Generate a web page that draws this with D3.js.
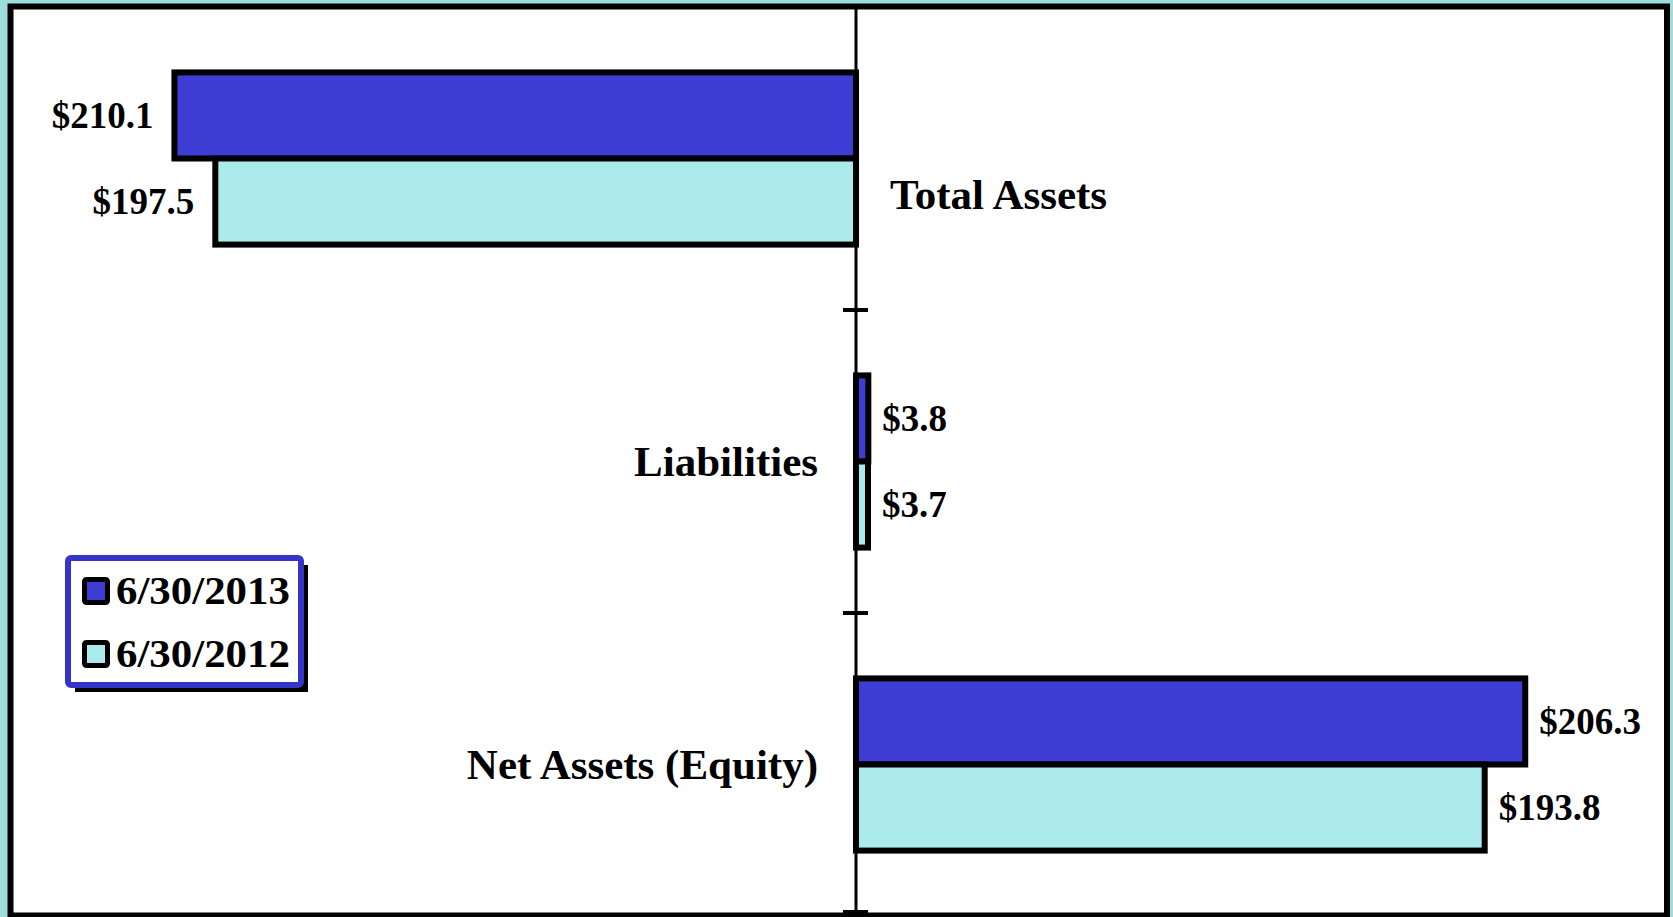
<!DOCTYPE html>
<html lang="en-us">
  <head>
    <meta charset="utf-8">
    <title>Total Assets, Liabilities and Net Assets</title>
    <script src="https://d3js.org/d3.v7.min.js"></script>
    <style>
      html, body { margin: 0; padding: 0; background: #9fdcdc; }
      .chart text {
        font-family: "Liberation Serif", "Times New Roman", serif;
        font-weight: bold;
        fill: #000;
      }
    </style>
  </head>
  <body>
    <svg class="chart"></svg>

<script>
var width = 1673,
    height = 917;

// data (in $ millions)
var categories = ["Total Assets", "Liabilities", "Net Assets (Equity)"];
var series = ["6/30/2013", "6/30/2012"];
var values2013 = [210.1, 3.8, 206.3];
var values2012 = [197.5, 3.7, 193.8];
// total assets go to the left of the axis, the rest to the right
var side = [-1, 1, 1];

var colors = ["#3d3dd6", "#aaeaea"];

var svg = d3.select(".chart")
    .attr("width", width)
    .attr("height", height);

// frame
svg.append("rect")
    .attr("x", 10.5).attr("y", 6.5)
    .attr("width", 1656.5).attr("height", 909)
    .attr("fill", "#fff")
    .attr("stroke", "#000")
    .attr("stroke-width", 6);

var x = d3.scaleLinear()
    .domain([-250, 250])
    .range([45, 1667]);

var y0 = d3.scaleBand()
    .domain(categories)
    .range([7, 916]);

var y1 = d3.scaleBand()
    .domain(series)
    .range([0, y0.bandwidth()])
    .paddingOuter(0.76);

var rows = categories.map(function(c, i) {
  return {
    cat: c,
    side: side[i],
    vals: [
      {s: series[0], v: values2013[i], color: colors[0]},
      {s: series[1], v: values2012[i], color: colors[1]}
    ]
  };
});

var groups = svg.selectAll("g.cat")
    .data(rows)
  .enter().append("g")
    .attr("class", "cat")
    .attr("transform", function(d) { return "translate(0," + y0(d.cat) + ")"; });

groups.selectAll("rect")
    .data(function(d) { return d.vals.map(function(e) { return Object.assign({side: d.side}, e); }); })
  .enter().append("rect")
    .attr("x", function(d) { return Math.min(x(0), x(d.side * d.v)); })
    .attr("width", function(d) { return Math.abs(x(d.side * d.v) - x(0)); })
    .attr("y", function(d) { return y1(d.s); })
    .attr("height", y1.bandwidth())
    .attr("fill", function(d) { return d.color; })
    .attr("stroke", "#000")
    .attr("stroke-width", 6);

// value labels
groups.selectAll("text.val")
    .data(function(d) { return d.vals.map(function(e) { return Object.assign({side: d.side}, e); }); })
  .enter().append("text")
    .attr("class", "val")
    .attr("x", function(d) { return x(d.side * d.v) + (d.side < 0 ? -21 : 14); })
    .attr("y", function(d) { return y1(d.s) + y1.bandwidth() / 2; })
    .attr("dy", "0.34em")
    .attr("text-anchor", function(d) { return d.side < 0 ? "end" : "start"; })
    .style("font-size", "37px")
    .text(function(d) { return "$" + d3.format(".1f")(d.v); });

// category labels sit on the other side of the axis
groups.append("text")
    .attr("x", function(d) { return d.side < 0 ? x(0) + 34 : x(0) - 38; })
    .attr("y", function(d, i) { return y0.bandwidth() / 2 + (i === 0 ? 36 : 0); })
    .attr("dy", "0.33em")
    .attr("text-anchor", function(d) { return d.side < 0 ? "start" : "end"; })
    .style("font-size", "43px")
    .text(function(d) { return d.cat; });

// axis line with ticks between categories
svg.append("line")
    .attr("x1", x(0)).attr("x2", x(0))
    .attr("y1", 7).attr("y2", height)
    .attr("stroke", "#000")
    .attr("stroke-width", 3);

var tickYs = categories.slice(1).map(function(c) { return y0(c); }).concat([y0.range()[1] - 4]);
svg.selectAll("line.tick")
    .data(tickYs)
  .enter().append("line")
    .attr("class", "tick")
    .attr("x1", x(0) - 13).attr("x2", x(0) + 12)
    .attr("y1", function(d) { return d; }).attr("y2", function(d) { return d; })
    .attr("stroke", "#000")
    .attr("stroke-width", 4);

// legend
var legend = svg.append("g").attr("transform", "translate(68,558)");
legend.append("rect")
    .attr("x", 7).attr("y", 7)
    .attr("width", 233).attr("height", 127)
    .attr("fill", "#000");
legend.append("rect")
    .attr("width", 233).attr("height", 127)
    .attr("rx", 3)
    .attr("fill", "#fff")
    .attr("stroke", "#3434c8")
    .attr("stroke-width", 6);

var items = legend.selectAll("g.item")
    .data(series)
  .enter().append("g")
    .attr("class", "item")
    .attr("transform", function(d, i) { return "translate(0," + (i * 63) + ")"; });

items.append("rect")
    .attr("x", 16.5).attr("y", 21.5)
    .attr("width", 23).attr("height", 23)
    .attr("rx", 2)
    .attr("fill", function(d, i) { return colors[i]; })
    .attr("stroke", "#000")
    .attr("stroke-width", 5);

items.append("text")
    .attr("transform", "translate(48,46) scale(1.1,1)")
    .style("font-size", "39px")
    .text(function(d) { return d; });
</script>
  </body>
</html>
